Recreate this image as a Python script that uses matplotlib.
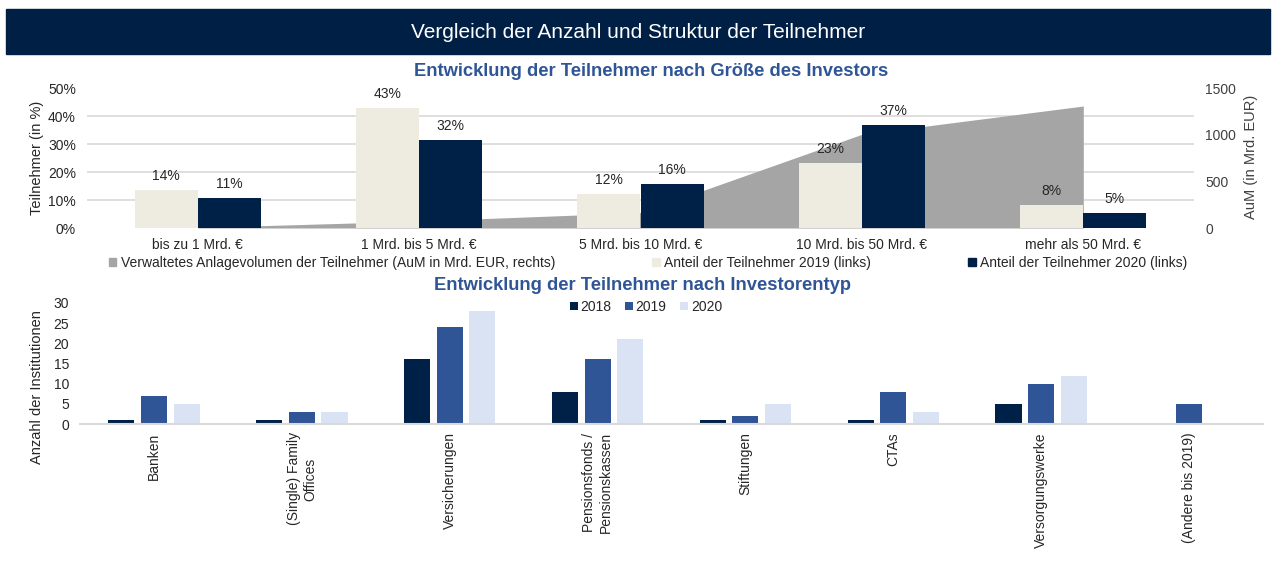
import matplotlib
matplotlib.use('Agg')
import matplotlib.pyplot as plt
from matplotlib import font_manager
from matplotlib.patches import Patch, Rectangle
import numpy as np

plt.rcParams['font.family'] = ['Liberation Sans', 'DejaVu Sans']

# Daten oben: Teilnehmer nach Größe
groessen = ['bis zu 1 Mrd. €', '1 Mrd. bis 5 Mrd. €', '5 Mrd. bis 10 Mrd. €',
            '10 Mrd. bis 50 Mrd. €', 'mehr als 50 Mrd. €']
anteil_2019 = [13.6, 42.9, 12.1, 23.1, 8.1]
anteil_2020 = [10.6, 31.6, 15.7, 36.8, 5.3]
aum = [5, 74, 165, 1004, 1307]

# Daten unten: Teilnehmer nach Investorentyp
typen = ['Banken', '(Single) Family\nOffices', 'Versicherungen',
         'Pensionsfonds /\nPensionskassen', 'Stiftungen', 'CTAs',
         'Versorgungswerke', '(Andere bis 2019)']
anzahl_2018 = [1, 1, 16, 8, 1, 1, 5, np.nan]
anzahl_2019 = [7, 3, 24, 16, 2, 8, 10, 5]
anzahl_2020 = [5, 3, 28, 21, 5, 3, 12, np.nan]

navy = '#002147'
beige = '#EEEBE0'
grau = '#A5A5A5'
blau = '#2F5597'
hellblau = '#DAE3F3'
gridgrau = '#D9D9D9'

names = {f.name for f in font_manager.fontManager.ttflist}
if 'Liberation Sans Narrow' in names:
    sub_font = ['Liberation Sans Narrow', 'DejaVu Sans']
    sub_size = 15
else:
    sub_font = ['Liberation Sans', 'DejaVu Sans']
    sub_size = 13.2

W, H = 1276, 568
fig = plt.figure(figsize=(W / 100, H / 100), dpi=100)

# Titelbalken
fig.patches.append(Rectangle((6 / W, 1 - 54 / H), 1264 / W, 45 / H,
                             transform=fig.transFigure, color='#001F45', zorder=0))
fig.text(0.5, 1 - 32 / H, 'Vergleich der Anzahl und Struktur der Teilnehmer',
         color='white', fontsize=15, ha='center', va='center')

# ---- oberes Diagramm ----
ax = fig.add_axes([87 / W, 1 - 228 / H, 1107 / W, 140 / H])
ax2 = ax.twinx()
ax.set_zorder(2)
ax2.set_zorder(1)
ax.patch.set_visible(False)

x = np.arange(len(groessen))
ax2.fill_between(x, 0, aum, color=grau, linewidth=0, zorder=2)
ax2.set_ylim(0, 1500)
ax2.set_yticks([0, 500, 1000, 1500])
ax2.set_yticks(np.arange(0, 1501, 300), minor=True)
ax2.grid(True, which='minor', axis='y', color=gridgrau, linewidth=1.2, zorder=0)
ax2.set_axisbelow(True)
ax2.tick_params(axis='y', which='both', length=0, labelsize=10, colors='#404040', pad=8)
ax2.yaxis.tick_right()

w = 0.285
b1 = ax.bar(x - w / 2, anteil_2019, w, color=beige, zorder=3)
b2 = ax.bar(x + w / 2, anteil_2020, w, color=navy, zorder=3)
for bars, vals in [(b1, anteil_2019), (b2, anteil_2020)]:
    for r, v in zip(bars, vals):
        ax.annotate(f'{v:.0f}%', (r.get_x() + r.get_width() / 2, v),
                    xytext=(0, 5), textcoords='offset points',
                    ha='center', va='bottom', fontsize=10, color='#262626')
ax.set_xlim(-0.5, 4.5)
ax.set_ylim(0, 50)
ax.set_yticks(range(0, 51, 10))
ax.set_yticklabels([f'{t}%' for t in range(0, 51, 10)])
ax.set_xticks(x)
ax.set_xticklabels(groessen)
ax.tick_params(axis='both', length=0, labelsize=10, colors='#262626')
ax.tick_params(axis='y', pad=8)
ax.tick_params(axis='x', pad=7)
for a in (ax, ax2):
    for s in a.spines.values():
        s.set_visible(False)

fig.text(37 / W, 1 - 158 / H, 'Teilnehmer (in %)', rotation=90,
         ha='center', va='center', fontsize=10.5, color='#262626')
fig.text(1251 / W, 1 - 157 / H, 'AuM (in Mrd. EUR)', rotation=90,
         ha='center', va='center', fontsize=10.5, color='#404040')
fig.text(651 / W, 1 - 71 / H, 'Entwicklung der Teilnehmer nach Größe des Investors',
         family=sub_font, fontsize=sub_size, fontweight='bold', color=blau,
         ha='center', va='center')

handles = [Patch(color=grau, label='Verwaltetes Anlagevolumen der Teilnehmer (AuM in Mrd. EUR, rechts)'),
           Patch(color=beige, label='Anteil der Teilnehmer 2019 (links)'),
           Patch(color=navy, label='Anteil der Teilnehmer 2020 (links)')]
fig.legend(handles=handles, loc='center', bbox_to_anchor=(648 / W, 1 - 263 / H),
           ncol=3, frameon=False, fontsize=10, handlelength=0.55, handleheight=0.55,
           handletextpad=0.3, columnspacing=7.0, labelcolor='#262626')

# ---- unteres Diagramm ----
bx = fig.add_axes([80 / W, 1 - 424 / H, 1183 / W, 121 / H])
xt = np.arange(len(typen))
bw = 0.176
off = 0.221
bx.bar(xt - off, anzahl_2018, bw, color=navy, label='2018')
bx.bar(xt, anzahl_2019, bw, color=blau, label='2019')
bx.bar(xt + off, anzahl_2020, bw, color=hellblau, label='2020')
bx.set_xlim(-0.5, 7.5)
bx.set_ylim(0, 30)
bx.set_yticks(range(0, 31, 5))
bx.set_xticks(xt)
bx.set_xticklabels(typen, rotation=90, va='top', ha='center', multialignment='center')
bx.tick_params(axis='both', length=0, labelsize=10, colors='#262626')
bx.tick_params(axis='y', pad=8)
bx.tick_params(axis='x', pad=6)
for k, s in bx.spines.items():
    s.set_visible(k == 'bottom')
bx.spines['bottom'].set_color(gridgrau)
bx.spines['bottom'].set_linewidth(1.5)

fig.text(37 / W, 1 - 387 / H, 'Anzahl der Institutionen', rotation=90,
         ha='center', va='center', fontsize=10.5, color='#262626')
fig.text(643 / W, 1 - 286 / H, 'Entwicklung der Teilnehmer nach Investorentyp',
         family=sub_font, fontsize=sub_size, fontweight='bold', color=blau,
         ha='center', va='center')
fig.legend(*bx.get_legend_handles_labels(), loc='center',
           bbox_to_anchor=(646 / W, 1 - 307 / H), ncol=3, frameon=False,
           fontsize=10, handlelength=0.55, handleheight=0.55, handletextpad=0.2,
           columnspacing=1.0, labelcolor='#262626')

fig.savefig('out.png', dpi=100)
